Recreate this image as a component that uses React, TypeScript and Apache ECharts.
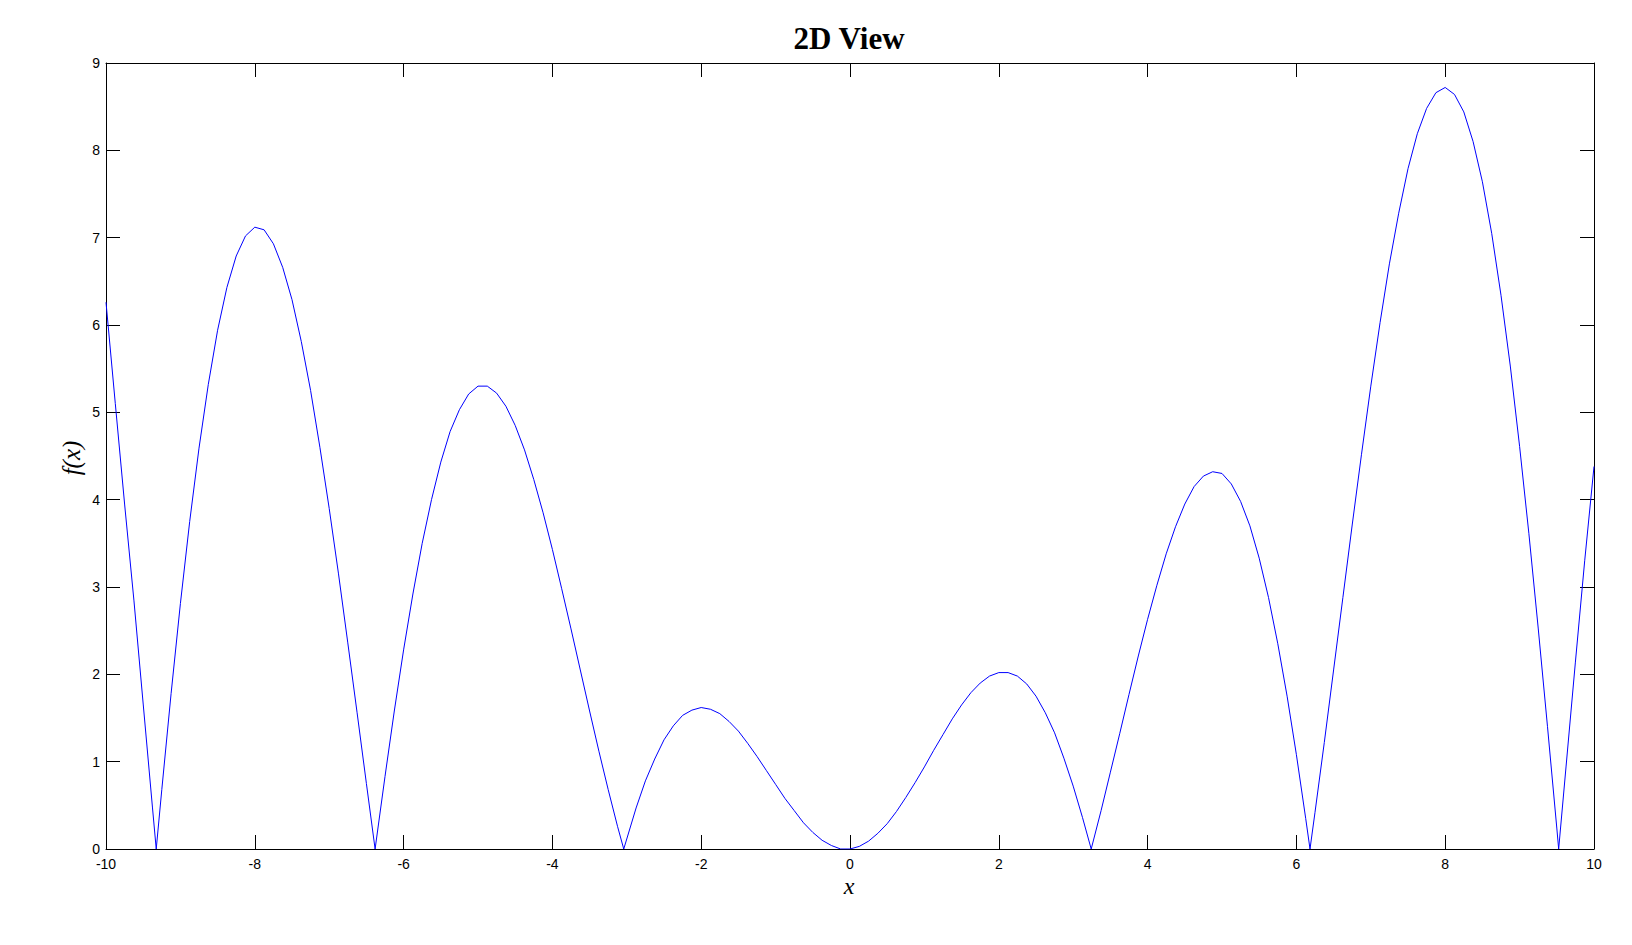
import React, { useEffect, useRef } from "react";
import * as echarts from "echarts";

const xValues = [
  -10, -9.875, -9.75, -9.625, -9.5, -9.375, -9.325, -9.25, -9.125, -9, -8.875, -8.75, -8.625, -8.5,
  -8.375, -8.25, -8.125, -8, -7.875, -7.75, -7.625, -7.5, -7.375, -7.25, -7.125, -7, -6.875, -6.75,
  -6.625, -6.5, -6.383, -6.25, -6.125, -6, -5.875, -5.75, -5.625, -5.5, -5.375, -5.25, -5.125, -5,
  -4.875, -4.75, -4.625, -4.5, -4.375, -4.25, -4.125, -4, -3.875, -3.75, -3.625, -3.5, -3.375, -3.25,
  -3.125, -3.041, -2.875, -2.75, -2.625, -2.5, -2.375, -2.25, -2.125, -2, -1.875, -1.75, -1.625, -1.5,
  -1.375, -1.25, -1.125, -1, -0.875, -0.75, -0.625, -0.5, -0.375, -0.25, -0.125, 0, 0.125, 0.25, 0.375,
  0.5, 0.625, 0.75, 0.875, 1, 1.125, 1.25, 1.375, 1.5, 1.625, 1.75, 1.875, 2, 2.125, 2.25, 2.375, 2.5,
  2.625, 2.75, 2.875, 3, 3.125, 3.242, 3.375, 3.5, 3.625, 3.75, 3.875, 4, 4.125, 4.25, 4.375, 4.5,
  4.625, 4.75, 4.875, 5, 5.125, 5.25, 5.375, 5.5, 5.625, 5.75, 5.875, 6, 6.125, 6.183, 6.25, 6.375,
  6.5, 6.625, 6.75, 6.875, 7, 7.125, 7.25, 7.375, 7.5, 7.625, 7.75, 7.875, 8, 8.125, 8.25, 8.375, 8.5,
  8.625, 8.75, 8.875, 9, 9.125, 9.25, 9.375, 9.5, 9.525, 9.625, 9.75, 9.875, 10,
];

const fValues = [
  6.26, 5.1, 3.95, 2.85, 1.66, 0.47, 0, 0.68, 1.78, 2.81, 3.75, 4.59, 5.32, 5.94,
  6.43, 6.79, 7.02, 7.12, 7.09, 6.93, 6.66, 6.29, 5.81, 5.25, 4.6, 3.9, 3.15, 2.36,
  1.56, 0.75, 0, 0.83, 1.58, 2.28, 2.92, 3.5, 4.0, 4.43, 4.78, 5.03, 5.21, 5.3,
  5.3, 5.22, 5.07, 4.85, 4.57, 4.23, 3.85, 3.43, 2.98, 2.52, 2.05, 1.58, 1.12, 0.68,
  0.26, 0, 0.47, 0.78, 1.03, 1.25, 1.41, 1.53, 1.59, 1.62, 1.6, 1.55, 1.46, 1.35,
  1.21, 1.06, 0.9, 0.74, 0.58, 0.44, 0.3, 0.19, 0.1, 0.04, 0.0, 0, 0.03, 0.09, 0.18,
  0.29, 0.43, 0.59, 0.76, 0.94, 1.13, 1.31, 1.49, 1.65, 1.79, 1.9, 1.98, 2.02, 2.02, 1.98, 1.89, 1.75,
  1.56, 1.33, 1.04, 0.72, 0.36, 0, 0.44, 0.88, 1.32, 1.77, 2.21, 2.63, 3.02, 3.38, 3.69, 3.95,
  4.15, 4.27, 4.32, 4.3, 4.18, 3.98, 3.7, 3.33, 2.88, 2.35, 1.75, 1.08, 0.35, 0, 0.42, 1.22,
  2.05, 2.88, 3.71, 4.52, 5.3, 6.03, 6.7, 7.28, 7.79, 8.19, 8.48, 8.66, 8.72, 8.64, 8.44, 8.1, 7.64,
  7.05, 6.34, 5.53, 4.61, 3.61, 2.53, 1.4, 0.24, 0, 0.95, 2.14, 3.3, 4.38,
];

const xTicks = { min: -10, max: 10, interval: 2 };
const yTicks = { min: 0, max: 9, interval: 1 };

const titleText = "2D View";
const xName = "x";
const yName = "f(x)";

export default function App() {
  const ref = useRef<HTMLDivElement>(null);

  useEffect(() => {
    document.body.style.margin = "0";
    if (!ref.current) return;
    const chart = echarts.init(ref.current, null, { renderer: "svg" });
    const data = xValues.map((x, i) => [x, fValues[i]]);
    const labelFont = 'Arial, "Liberation Sans", sans-serif';
    const axisCommon = {
      type: "value" as const,
      axisLine: { show: true, onZero: false, lineStyle: { color: "#000", width: 1 } },
      axisTick: { show: true, inside: true, length: 14, lineStyle: { color: "#000", width: 1 } },
      splitLine: { show: false },
    };
    chart.setOption({
      animation: false,
      backgroundColor: "#fff",
      grid: { left: 106, right: 38, top: 63, bottom: 96, containLabel: false },
      xAxis: [
        {
          ...axisCommon,
          position: "bottom",
          min: xTicks.min,
          max: xTicks.max,
          interval: xTicks.interval,
          axisLabel: { color: "#000", fontSize: 14, lineHeight: 14, fontFamily: labelFont, margin: 8 },
        },
        {
          ...axisCommon,
          position: "top",
          min: xTicks.min,
          max: xTicks.max,
          interval: xTicks.interval,
          axisLabel: { show: false },
        },
      ],
      yAxis: [
        {
          ...axisCommon,
          position: "left",
          min: yTicks.min,
          max: yTicks.max,
          interval: yTicks.interval,
          axisLabel: { color: "#000", fontSize: 14, lineHeight: 14, fontFamily: labelFont, margin: 6 },
        },
        {
          ...axisCommon,
          position: "right",
          min: yTicks.min,
          max: yTicks.max,
          interval: yTicks.interval,
          axisLabel: { show: false },
        },
      ],
      graphic: [
        {
          type: "text",
          x: 849,
          y: 38,
          style: {
            text: titleText,
            font: 'bold 31px "Times New Roman", "Liberation Serif", serif',
            fill: "#000",
            textAlign: "center",
            textVerticalAlign: "middle",
            align: "center",
            verticalAlign: "middle",
          },
        },
        {
          type: "text",
          x: 849,
          y: 886,
          style: {
            text: xName,
            font: 'italic 24px "Times New Roman", "Liberation Serif", serif',
            fill: "#000",
            textAlign: "center",
            textVerticalAlign: "middle",
            align: "center",
            verticalAlign: "middle",
          },
        },
        {
          type: "text",
          x: 71,
          y: 458,
          rotation: Math.PI / 2,
          style: {
            text: yName,
            font: 'italic 25px "Times New Roman", "Liberation Serif", serif',
            fill: "#000",
            textAlign: "center",
            textVerticalAlign: "middle",
            align: "center",
            verticalAlign: "middle",
          },
        },
      ],
      series: [
        {
          type: "line",
          xAxisIndex: 0,
          yAxisIndex: 0,
          data,
          showSymbol: false,
          smooth: false,
          lineStyle: { color: "#0000ff", width: 1 },
          itemStyle: { color: "#0000ff" },
        },
      ],
    });
    return () => chart.dispose();
  }, []);

  return <div ref={ref} style={{ width: 1632, height: 945 }} />;
}
